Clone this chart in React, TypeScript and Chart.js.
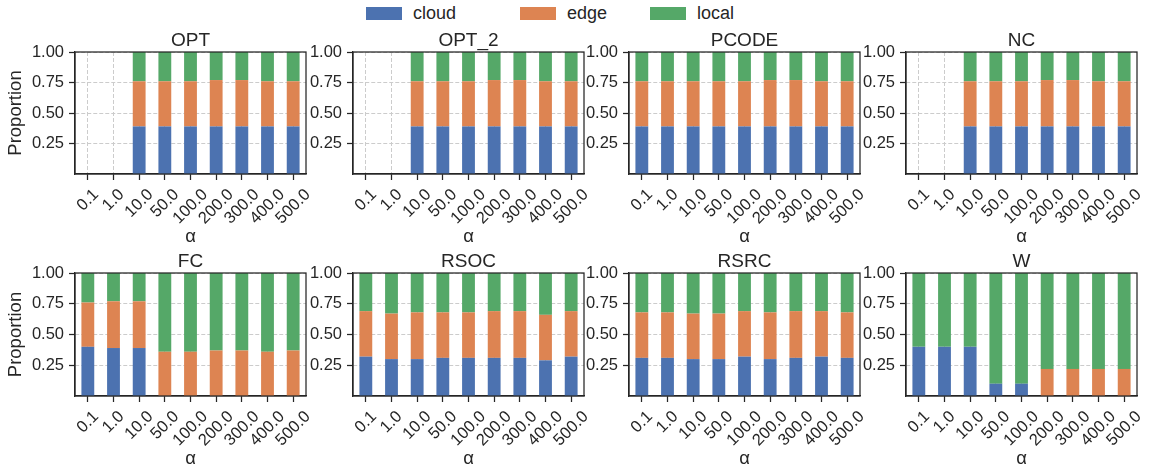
import React, { useEffect, useRef } from "react";
import { Chart, registerables } from "chart.js";

Chart.register(...registerables);

// ---------------- data ----------------
const alphaLabels = ["0.1", "1.0", "10.0", "50.0", "100.0", "200.0", "300.0", "400.0", "500.0"];
const seriesNames = ["cloud", "edge", "local"];
const seriesColors = ["#4c72b0", "#dd8452", "#55a868"];
const yTickValues = [0.25, 0.5, 0.75, 1.0];
const panelTitles = ["OPT", "OPT_2", "PCODE", "NC", "FC", "RSOC", "RSRC", "W"];

const optCloud = [0, 0, 0.39, 0.39, 0.39, 0.39, 0.39, 0.39, 0.39];
const optEdge = [0, 0, 0.37, 0.37, 0.37, 0.38, 0.38, 0.37, 0.37];
const optLocal = [0, 0, 0.24, 0.24, 0.24, 0.23, 0.23, 0.24, 0.24];

const opt2Cloud = [0, 0, 0.39, 0.39, 0.39, 0.39, 0.39, 0.39, 0.39];
const opt2Edge = [0, 0, 0.37, 0.37, 0.37, 0.38, 0.38, 0.37, 0.37];
const opt2Local = [0, 0, 0.24, 0.24, 0.24, 0.23, 0.23, 0.24, 0.24];

const pcodeCloud = [0.39, 0.39, 0.39, 0.39, 0.39, 0.39, 0.39, 0.39, 0.39];
const pcodeEdge = [0.37, 0.37, 0.37, 0.37, 0.37, 0.38, 0.38, 0.37, 0.37];
const pcodeLocal = [0.24, 0.24, 0.24, 0.24, 0.24, 0.23, 0.23, 0.24, 0.24];

const ncCloud = [0, 0, 0.39, 0.39, 0.39, 0.39, 0.39, 0.39, 0.39];
const ncEdge = [0, 0, 0.37, 0.37, 0.37, 0.38, 0.38, 0.37, 0.37];
const ncLocal = [0, 0, 0.24, 0.24, 0.24, 0.23, 0.23, 0.24, 0.24];

const fcCloud = [0.40, 0.39, 0.39, 0, 0, 0, 0, 0, 0];
const fcEdge = [0.36, 0.38, 0.38, 0.36, 0.36, 0.37, 0.37, 0.36, 0.37];
const fcLocal = [0.24, 0.23, 0.23, 0.64, 0.64, 0.63, 0.63, 0.64, 0.63];

const rsocCloud = [0.32, 0.30, 0.30, 0.31, 0.31, 0.31, 0.31, 0.29, 0.32];
const rsocEdge = [0.37, 0.37, 0.38, 0.37, 0.37, 0.38, 0.38, 0.37, 0.37];
const rsocLocal = [0.31, 0.33, 0.32, 0.32, 0.32, 0.31, 0.31, 0.34, 0.31];

const rsrcCloud = [0.31, 0.31, 0.30, 0.30, 0.32, 0.30, 0.31, 0.32, 0.31];
const rsrcEdge = [0.37, 0.37, 0.37, 0.37, 0.37, 0.38, 0.38, 0.37, 0.37];
const rsrcLocal = [0.32, 0.32, 0.33, 0.33, 0.31, 0.32, 0.31, 0.31, 0.32];

const wCloud = [0.40, 0.40, 0.40, 0.10, 0.10, 0, 0, 0, 0];
const wEdge = [0, 0, 0, 0, 0, 0.22, 0.22, 0.22, 0.22];
const wLocal = [0.60, 0.60, 0.60, 0.90, 0.90, 0.78, 0.78, 0.78, 0.78];

const panelSeries = [
  [optCloud, optEdge, optLocal],
  [opt2Cloud, opt2Edge, opt2Local],
  [pcodeCloud, pcodeEdge, pcodeLocal],
  [ncCloud, ncEdge, ncLocal],
  [fcCloud, fcEdge, fcLocal],
  [rsocCloud, rsocEdge, rsocLocal],
  [rsrcCloud, rsrcEdge, rsrcLocal],
  [wCloud, wEdge, wLocal],
];

// ---------------- style / layout ----------------
const FONT = "'Liberation Sans', Arial, sans-serif";
const INK = "#262626";
const GRID = "#cccccc";
const COL_LEFT = [75, 353, 629, 906];
const PLOT_W = 231;
const ROW_TOP = [52, 273];
const ROW_H = [122, 123];
const TITLE_BLOCK = 21;
const X_AXIS_H = 74;
const PAD_R = 14;

const boxPlugin = {
  id: "spineBox",
  afterDraw(chart: any) {
    const { ctx, chartArea: a } = chart;
    ctx.save();
    ctx.strokeStyle = INK;
    ctx.lineWidth = 1.25;
    ctx.strokeRect(a.left, a.top, a.right - a.left, a.bottom - a.top);
    ctx.restore();
  },
};

// matplotlib centres rotated tick labels under the tick; Chart.js anchors their end.
const centerLabelsPlugin = {
  id: "centerRotatedLabels",
  beforeDraw(chart: any) {
    const s = chart.scales.x;
    if (!s || !s.getLabelItems) return;
    const items = s.getLabelItems();
    const ctx = chart.ctx;
    ctx.save();
    for (const it of items) {
      if (it._centered) continue;
      ctx.font = it.font.string;
      const w = ctx.measureText(String(it.label)).width;
      it.options.translation[0] += Math.SQRT1_2 * w / 2;
      it._centered = true;
    }
    ctx.restore();
  },
};

function Panel({ index }: { index: number }) {
  const ref = useRef<HTMLCanvasElement | null>(null);
  const col = index % 4;
  const row = Math.floor(index / 4);
  const wy = col === 0 ? 75 : 44;
  const left = COL_LEFT[col] - wy;
  const top = ROW_TOP[row] - TITLE_BLOCK;
  const width = wy + PLOT_W + PAD_R;
  const height = TITLE_BLOCK + ROW_H[row] + X_AXIS_H;

  useEffect(() => {
    if (!ref.current) return;
    const series = panelSeries[index];
    const chart = new Chart(ref.current, {
      type: "bar",
      data: {
        labels: alphaLabels,
        datasets: seriesNames.map((name, i) => ({
          label: name,
          data: series[i],
          backgroundColor: seriesColors[i],
          borderWidth: 0,
          barPercentage: 0.5,
          categoryPercentage: 1.0,
        })),
      },
      options: {
        animation: false,
        responsive: false,
        maintainAspectRatio: false,
        devicePixelRatio: 1,
        layout: { padding: { left: 0, right: PAD_R, top: 0, bottom: 0 } },
        plugins: {
          legend: { display: false },
          tooltip: { enabled: false },
          title: {
            display: true,
            fullSize: false,
            text: panelTitles[index],
            color: INK,
            font: { family: FONT, size: 19, weight: "normal", lineHeight: 1 },
            padding: { top: 0, bottom: 2 },
          },
        },
        scales: {
          x: {
            type: "category",
            stacked: true,
            offset: true,
            grid: {
              display: true,
              offset: false,
              color: GRID,
              lineWidth: 1,
              drawTicks: true,
              tickLength: 6,
              tickColor: INK,
              tickWidth: 1.25,
              tickBorderDash: [],
            },
            border: { display: true, color: INK, width: 1.25, dash: [4, 2] },
            ticks: {
              autoSkip: false,
              minRotation: 45,
              maxRotation: 45,
              padding: 5,
              color: INK,
              font: { family: FONT, size: 16.5 },
            },
            title: {
              display: true,
              text: "α",
              color: INK,
              font: { family: FONT, size: 18.5 },
              padding: { top: 0, bottom: 0 },
            },
            afterFit: (s: any) => {
              s.height = X_AXIS_H;
            },
          },
          y: {
            type: "linear",
            stacked: true,
            min: 0,
            max: 1,
            grid: {
              display: true,
              color: GRID,
              lineWidth: 1,
              drawTicks: true,
              tickLength: 6,
              tickColor: INK,
              tickWidth: 1.25,
              tickBorderDash: [],
            },
            border: { display: true, color: INK, width: 1.25, dash: [4, 2] },
            afterBuildTicks: (s: any) => {
              s.ticks = yTickValues.map((v) => ({ value: v }));
            },
            ticks: {
              padding: 5,
              color: INK,
              font: { family: FONT, size: 16.5 },
              callback: (v: any) => Number(v).toFixed(2),
            },
            title: {
              display: col === 0,
              text: "Proportion",
              color: INK,
              font: { family: FONT, size: 18.5 },
              padding: { top: 5, bottom: 0 },
            },
            afterFit: (s: any) => {
              s.width = wy;
            },
          },
        },
      } as any,
      plugins: [centerLabelsPlugin, boxPlugin],
    });
    return () => chart.destroy();
  }, [index]);

  return (
    <canvas
      ref={ref}
      width={width}
      height={height}
      style={{ position: "absolute", left, top, width, height }}
    />
  );
}

const legendX = [366, 520, 650];

export default function App() {
  return (
    <div
      style={{
        position: "absolute",
        left: 0,
        top: 0,
        width: 1152,
        height: 474,
        background: "#ffffff",
        overflow: "hidden",
        fontFamily: FONT,
      }}
    >
      {seriesNames.map((name, i) => (
        <div
          key={name}
          style={{
            position: "absolute",
            left: legendX[i],
            top: 0,
            height: 26,
            display: "flex",
            alignItems: "center",
            color: INK,
            fontSize: 18,
          }}
        >
          <span
            style={{
              display: "inline-block",
              width: 36,
              height: 13,
              background: seriesColors[i],
              marginRight: 11,
            }}
          />
          <span style={{ lineHeight: "18px" }}>{name}</span>
        </div>
      ))}
      {panelTitles.map((t, i) => (
        <Panel key={t} index={i} />
      ))}
    </div>
  );
}
